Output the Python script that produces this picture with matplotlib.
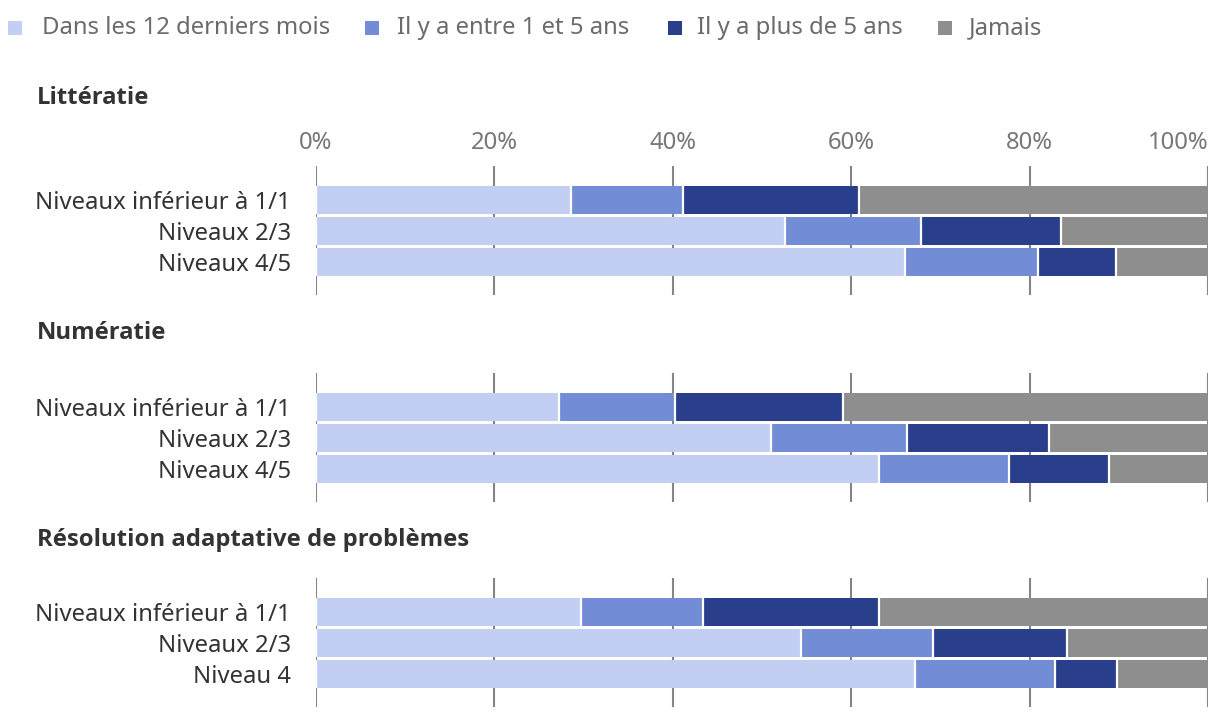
import matplotlib
matplotlib.use("Agg")
import matplotlib.pyplot as plt
from matplotlib.patches import Rectangle
import numpy as np

plt.rcParams['font.family'] = ['Noto Sans', 'DejaVu Sans']

series = ["Dans les 12 derniers mois", "Il y a entre 1 et 5 ans", "Il y a plus de 5 ans", "Jamais"]
colors = ["#C2CFF2", "#728CD6", "#2A3F8B", "#8E8E8E"]

panel_titles = ["Littératie", "Numératie", "Résolution adaptative de problèmes"]
panel_cats = [
    ["Niveaux inférieur à 1/1", "Niveaux 2/3", "Niveaux 4/5"],
    ["Niveaux inférieur à 1/1", "Niveaux 2/3", "Niveaux 4/5"],
    ["Niveaux inférieur à 1/1", "Niveaux 2/3", "Niveau 4"],
]
# values per panel: rows = categories, cols = series (percent)
litt_vals = [[28.6, 12.5, 19.8, 39.1],
             [52.6, 15.2, 15.7, 16.5],
             [66.0, 14.9, 8.8, 10.3]]
num_vals = [[27.2, 13.0, 18.9, 40.9],
            [51.0, 15.3, 15.9, 17.8],
            [63.1, 14.6, 11.2, 11.1]]
res_vals = [[29.7, 13.7, 19.7, 36.9],
            [54.4, 14.8, 15.0, 15.8],
            [67.2, 15.6, 7.0, 10.2]]
panel_vals = [litt_vals, num_vals, res_vals]
ticks = [0, 20, 40, 60, 80, 100]
tick_labels = ["0%", "20%", "40%", "60%", "80%", "100%"]

W, H = 1220, 720
fig = plt.figure(figsize=(W / 100, H / 100), dpi=100)

FS = 17.2
panel_tops = [166, 373, 578]
panel_title_y = [98, 333, 540]
ax_h = 129
left, right = 316, 1208
bar_h = 0.9

for p in range(3):
    top = panel_tops[p]
    ax = fig.add_axes([left / W, 1 - (top + ax_h) / H, (right - left) / W, ax_h / H])
    cats = panel_cats[p]
    vals = panel_vals[p]
    for xt in ticks:
        ax.axvline(xt, color="#858585", lw=1.5, zorder=0)
    for i in range(len(cats)):
        start = 0
        for s in range(len(series)):
            v = vals[i][s]
            ax.barh(i, v, left=start, height=bar_h, color=colors[s],
                    edgecolor="none", linewidth=0, zorder=2)
            start += v
        bounds = np.cumsum(vals[i])[:-1]
        bounds = np.concatenate([[0], bounds])
        ax.vlines(bounds, i - bar_h / 2, i + bar_h / 2, color="white", lw=1.6, zorder=3)
    ax.set_xlim(0, 100)
    ax.set_ylim(3.065, -1.097)
    ax.set_yticks(range(len(cats)))
    ax.set_yticklabels(cats, fontsize=FS, color="#333333")
    ax.tick_params(axis="y", length=0, pad=18)
    ax.set_xticks(ticks)
    if p == 0:
        ax.xaxis.tick_top()
        ax.set_xticklabels(tick_labels, fontsize=FS, color="#777777")
        ax.tick_params(axis="x", length=0, pad=8)
        lbls = ax.get_xticklabels()
        lbls[-1].set_horizontalalignment("right")
    else:
        ax.tick_params(axis="x", length=0, labelbottom=False, labeltop=False)
    for sp in ax.spines.values():
        sp.set_visible(False)
    fig.text(37 / W, 1 - panel_title_y[p] / H, panel_titles[p], fontsize=17.2,
             family=["Open Sans", "DejaVu Sans"], fontweight="bold",
             color="#333333", va="center", ha="left")

# legend
leg_sq_x = [8, 365, 668, 938]
leg_txt_x = [42, 397, 697, 969]
leg_y = 28
sq = 14
for s in range(len(series)):
    fig.patches.append(Rectangle((leg_sq_x[s] / W, 1 - (leg_y + sq / 2) / H), sq / W, sq / H,
                                 transform=fig.transFigure, facecolor=colors[s],
                                 edgecolor="none"))
    fig.text(leg_txt_x[s] / W, 1 - leg_y / H, series[s], fontsize=FS,
             color="#6b6b6b", va="center", ha="left")

fig.savefig("out.png", dpi=100)
